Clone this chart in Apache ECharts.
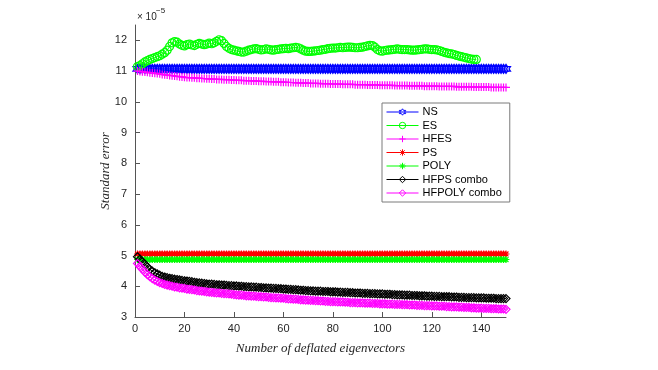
<!DOCTYPE html>
<html>
<head>
<meta charset="utf-8">
<script src="https://cdn.jsdelivr.net/npm/echarts@6/dist/echarts.min.js"></script>
<style>
  html, body { margin: 0; padding: 0; background: #fff; }
  #chart { width: 658px; height: 370px; }
</style>
</head>
<body>
<div id="chart"></div>
<script>
// values are in units of 1e-5
const seriesNames = ['NS', 'ES', 'HFES', 'PS', 'POLY', 'HFPS combo', 'HFPOLY combo']
const xTicks = [0, 20, 40, 60, 80, 100, 120, 140]
const yTicks = [3, 4, 5, 6, 7, 8, 9, 10, 11, 12]

const nsValues = [
  11.07, 11.07, 11.07, 11.07, 11.07, 11.07, 11.07, 11.07, 11.07, 11.07,
  11.07, 11.07, 11.07, 11.07, 11.07, 11.07, 11.07, 11.07, 11.07, 11.07,
  11.07, 11.07, 11.07, 11.07, 11.07, 11.07, 11.07, 11.07, 11.07, 11.07,
  11.07, 11.07, 11.07, 11.07, 11.07, 11.07, 11.07, 11.07, 11.07, 11.07,
  11.07, 11.07, 11.07, 11.07, 11.07, 11.07, 11.07, 11.07, 11.07, 11.07,
  11.07, 11.07, 11.07, 11.07, 11.07, 11.07, 11.07, 11.07, 11.07, 11.07,
  11.07, 11.07, 11.07, 11.07, 11.07, 11.07, 11.07, 11.07, 11.07, 11.07,
  11.07, 11.07, 11.07, 11.07, 11.07, 11.07, 11.07, 11.07, 11.07, 11.07,
  11.07, 11.07, 11.07, 11.07, 11.07, 11.07, 11.07, 11.07, 11.07, 11.07,
  11.07, 11.07, 11.07, 11.07, 11.07, 11.07, 11.07, 11.07, 11.07, 11.07,
  11.07, 11.07, 11.07, 11.07, 11.07, 11.07, 11.07, 11.07, 11.07, 11.07,
  11.07, 11.07, 11.07, 11.07, 11.07, 11.07, 11.07, 11.07, 11.07, 11.07,
  11.07, 11.07, 11.07, 11.07, 11.07, 11.07, 11.07, 11.07, 11.07, 11.07,
  11.07, 11.07, 11.07, 11.07, 11.07, 11.07, 11.07, 11.07, 11.07, 11.07,
  11.07, 11.07, 11.07, 11.07, 11.07, 11.07, 11.07, 11.07, 11.07, 11.07
]

const esValues = [
  11.15, 11.18, 11.24, 11.30, 11.34, 11.38, 11.41, 11.44, 11.47, 11.50,
  11.55, 11.60, 11.68, 11.80, 11.92, 11.96, 11.94, 11.88, 11.84, 11.82,
  11.86, 11.88, 11.85, 11.83, 11.87, 11.90, 11.88, 11.86, 11.88, 11.91,
  11.89, 11.92, 11.97, 12.02, 11.99, 11.90, 11.80, 11.74, 11.70, 11.68,
  11.66, 11.64, 11.62, 11.62, 11.65, 11.68, 11.70, 11.72, 11.73, 11.71,
  11.69, 11.70, 11.72, 11.71, 11.69, 11.68, 11.70, 11.71, 11.72, 11.73,
  11.74, 11.73, 11.75, 11.76, 11.77, 11.76, 11.72, 11.68, 11.65, 11.64,
  11.64, 11.65, 11.66, 11.67, 11.68, 11.70, 11.71, 11.73, 11.74, 11.75,
  11.75, 11.76, 11.77, 11.76, 11.77, 11.78, 11.78, 11.77, 11.76, 11.76,
  11.77, 11.78, 11.80, 11.82, 11.84, 11.83, 11.78, 11.70, 11.66, 11.65,
  11.67, 11.68, 11.69, 11.70, 11.71, 11.72, 11.71, 11.70, 11.70, 11.70,
  11.69, 11.68, 11.68, 11.69, 11.70, 11.71, 11.72, 11.72, 11.71, 11.70,
  11.70, 11.69, 11.67, 11.64, 11.61, 11.59, 11.57, 11.56, 11.54, 11.51,
  11.49, 11.47, 11.45, 11.43, 11.41, 11.39, 11.38, 11.38
]

const hfesValues = [
  11.00, 10.99, 10.98, 10.97, 10.96, 10.95, 10.94, 10.93, 10.92, 10.91,
  10.89, 10.88, 10.87, 10.86, 10.85, 10.84, 10.83, 10.82, 10.81, 10.80,
  10.79, 10.79, 10.78, 10.78, 10.77, 10.77, 10.76, 10.76, 10.75, 10.75,
  10.74, 10.74, 10.73, 10.73, 10.73, 10.72, 10.72, 10.72, 10.71, 10.71,
  10.70, 10.70, 10.70, 10.69, 10.69, 10.69, 10.68, 10.68, 10.68, 10.67,
  10.67, 10.67, 10.66, 10.66, 10.66, 10.65, 10.65, 10.65, 10.64, 10.64,
  10.64, 10.63, 10.63, 10.63, 10.62, 10.62, 10.62, 10.61, 10.61, 10.61,
  10.60, 10.60, 10.60, 10.60, 10.59, 10.59, 10.59, 10.59, 10.58, 10.58,
  10.58, 10.58, 10.58, 10.57, 10.57, 10.57, 10.57, 10.57, 10.56, 10.56,
  10.56, 10.56, 10.56, 10.55, 10.55, 10.55, 10.55, 10.55, 10.54, 10.54,
  10.54, 10.54, 10.54, 10.54, 10.53, 10.53, 10.53, 10.53, 10.53, 10.53,
  10.52, 10.52, 10.52, 10.52, 10.52, 10.52, 10.51, 10.51, 10.51, 10.51,
  10.51, 10.51, 10.50, 10.50, 10.50, 10.50, 10.50, 10.50, 10.50, 10.49,
  10.49, 10.49, 10.49, 10.49, 10.49, 10.49, 10.48, 10.48, 10.48, 10.48,
  10.48, 10.48, 10.48, 10.47, 10.47, 10.47, 10.47, 10.47, 10.47, 10.47
]

const psValues = [
  5.05, 5.05, 5.05, 5.05, 5.05, 5.05, 5.05, 5.05, 5.05, 5.05,
  5.05, 5.05, 5.05, 5.05, 5.05, 5.05, 5.05, 5.05, 5.05, 5.05,
  5.05, 5.05, 5.05, 5.05, 5.05, 5.05, 5.05, 5.05, 5.05, 5.05,
  5.05, 5.05, 5.05, 5.05, 5.05, 5.05, 5.05, 5.05, 5.05, 5.05,
  5.05, 5.05, 5.05, 5.05, 5.05, 5.05, 5.05, 5.05, 5.05, 5.05,
  5.05, 5.05, 5.05, 5.05, 5.05, 5.05, 5.05, 5.05, 5.05, 5.05,
  5.05, 5.05, 5.05, 5.05, 5.05, 5.05, 5.05, 5.05, 5.05, 5.05,
  5.05, 5.05, 5.05, 5.05, 5.05, 5.05, 5.05, 5.05, 5.05, 5.05,
  5.05, 5.05, 5.05, 5.05, 5.05, 5.05, 5.05, 5.05, 5.05, 5.05,
  5.05, 5.05, 5.05, 5.05, 5.05, 5.05, 5.05, 5.05, 5.05, 5.05,
  5.05, 5.05, 5.05, 5.05, 5.05, 5.05, 5.05, 5.05, 5.05, 5.05,
  5.05, 5.05, 5.05, 5.05, 5.05, 5.05, 5.05, 5.05, 5.05, 5.05,
  5.05, 5.05, 5.05, 5.05, 5.05, 5.05, 5.05, 5.05, 5.05, 5.05,
  5.05, 5.05, 5.05, 5.05, 5.05, 5.05, 5.05, 5.05, 5.05, 5.05,
  5.05, 5.05, 5.05, 5.05, 5.05, 5.05, 5.05, 5.05, 5.05, 5.05
]

const polyValues = [
  4.87, 4.87, 4.87, 4.87, 4.87, 4.87, 4.87, 4.87, 4.87, 4.87,
  4.87, 4.87, 4.87, 4.87, 4.87, 4.87, 4.87, 4.87, 4.87, 4.87,
  4.87, 4.87, 4.87, 4.87, 4.87, 4.87, 4.87, 4.87, 4.87, 4.87,
  4.87, 4.87, 4.87, 4.87, 4.87, 4.87, 4.87, 4.87, 4.87, 4.87,
  4.87, 4.87, 4.87, 4.87, 4.87, 4.87, 4.87, 4.87, 4.87, 4.87,
  4.87, 4.87, 4.87, 4.87, 4.87, 4.87, 4.87, 4.87, 4.87, 4.87,
  4.87, 4.87, 4.87, 4.87, 4.87, 4.87, 4.87, 4.87, 4.87, 4.87,
  4.87, 4.87, 4.87, 4.87, 4.87, 4.87, 4.87, 4.87, 4.87, 4.87,
  4.87, 4.87, 4.87, 4.87, 4.87, 4.87, 4.87, 4.87, 4.87, 4.87,
  4.87, 4.87, 4.87, 4.87, 4.87, 4.87, 4.87, 4.87, 4.87, 4.87,
  4.87, 4.87, 4.87, 4.87, 4.87, 4.87, 4.87, 4.87, 4.87, 4.87,
  4.87, 4.87, 4.87, 4.87, 4.87, 4.87, 4.87, 4.87, 4.87, 4.87,
  4.87, 4.87, 4.87, 4.87, 4.87, 4.87, 4.87, 4.87, 4.87, 4.87,
  4.87, 4.87, 4.87, 4.87, 4.87, 4.87, 4.87, 4.87, 4.87, 4.87,
  4.87, 4.87, 4.87, 4.87, 4.87, 4.87, 4.87, 4.87, 4.87, 4.87
]

const hfpsValues = [
  4.96, 4.88, 4.80, 4.72, 4.63, 4.55, 4.49, 4.44, 4.40, 4.36,
  4.32, 4.30, 4.28, 4.26, 4.25, 4.23, 4.22, 4.21, 4.19, 4.18,
  4.17, 4.16, 4.15, 4.13, 4.12, 4.11, 4.10, 4.09, 4.08, 4.07,
  4.07, 4.06, 4.05, 4.05, 4.04, 4.04, 4.03, 4.02, 4.02, 4.01,
  4.01, 4.00, 4.00, 3.99, 3.99, 3.98, 3.98, 3.97, 3.97, 3.96,
  3.96, 3.95, 3.95, 3.94, 3.94, 3.93, 3.93, 3.92, 3.92, 3.91,
  3.91, 3.90, 3.90, 3.89, 3.89, 3.88, 3.87, 3.87, 3.86, 3.86,
  3.85, 3.85, 3.84, 3.84, 3.84, 3.83, 3.83, 3.83, 3.82, 3.82,
  3.82, 3.81, 3.81, 3.80, 3.80, 3.80, 3.79, 3.79, 3.78, 3.78,
  3.78, 3.77, 3.77, 3.77, 3.76, 3.76, 3.76, 3.75, 3.75, 3.75,
  3.74, 3.74, 3.74, 3.73, 3.73, 3.72, 3.72, 3.72, 3.71, 3.71,
  3.71, 3.70, 3.70, 3.70, 3.69, 3.69, 3.69, 3.68, 3.68, 3.68,
  3.67, 3.67, 3.67, 3.66, 3.66, 3.66, 3.66, 3.65, 3.65, 3.65,
  3.64, 3.64, 3.64, 3.63, 3.63, 3.63, 3.63, 3.62, 3.62, 3.62,
  3.62, 3.61, 3.61, 3.61, 3.61, 3.60, 3.60, 3.60, 3.60, 3.60
]

const hfpolyValues = [
  4.74, 4.64, 4.55, 4.46, 4.38, 4.31, 4.25, 4.20, 4.16, 4.12,
  4.09, 4.06, 4.04, 4.02, 4.00, 3.98, 3.97, 3.95, 3.94, 3.93,
  3.91, 3.90, 3.89, 3.88, 3.86, 3.85, 3.84, 3.83, 3.82, 3.81,
  3.80, 3.79, 3.78, 3.78, 3.77, 3.76, 3.76, 3.75, 3.74, 3.73,
  3.72, 3.71, 3.71, 3.70, 3.69, 3.69, 3.68, 3.68, 3.67, 3.66,
  3.66, 3.65, 3.65, 3.64, 3.63, 3.63, 3.62, 3.62, 3.61, 3.61,
  3.60, 3.59, 3.59, 3.58, 3.58, 3.57, 3.56, 3.56, 3.55, 3.55,
  3.54, 3.54, 3.53, 3.53, 3.52, 3.52, 3.51, 3.51, 3.50, 3.50,
  3.50, 3.49, 3.49, 3.49, 3.48, 3.48, 3.47, 3.47, 3.47, 3.46,
  3.46, 3.46, 3.45, 3.45, 3.45, 3.44, 3.44, 3.44, 3.43, 3.43,
  3.43, 3.42, 3.42, 3.42, 3.41, 3.41, 3.41, 3.40, 3.40, 3.40,
  3.39, 3.39, 3.39, 3.38, 3.38, 3.38, 3.37, 3.37, 3.37, 3.36,
  3.36, 3.36, 3.35, 3.35, 3.35, 3.34, 3.34, 3.33, 3.33, 3.33,
  3.32, 3.32, 3.31, 3.31, 3.31, 3.30, 3.30, 3.29, 3.29, 3.29,
  3.28, 3.28, 3.28, 3.27, 3.27, 3.27, 3.26, 3.26, 3.26, 3.25
]

// MATLAB-like marker outlines
const HEXAGRAM = 'path://M50 0L64.4 25L93.3 25L78.9 50L93.3 75L64.4 75L50 100L35.6 75L6.7 75L21.1 50L6.7 25L35.6 25Z'
const PLUS = 'path://M50 0L50 100M0 50L100 50'
const STAR = 'path://M50 0L50 100M0 50L100 50M15 15L85 85M85 15L15 85'
const DIAMOND = 'path://M50 0L100 50L50 100L0 50Z'

const axisColor = '#262626'

function toPoints(values) {
  return values.map((v, i) => [i + 1, v])
}

function makeSeries(name, values, color, symbol, size) {
  return {
    name: name,
    type: 'line',
    data: toPoints(values),
    symbol: symbol,
    symbolSize: size,
    showAllSymbol: true,
    lineStyle: { color: color, width: 1 },
    itemStyle: { color: 'transparent', borderColor: color, borderWidth: 1.2 },
    emphasis: { disabled: true }
  }
}

const chart = echarts.init(document.getElementById('chart'))

const option = {
  animation: false,
  backgroundColor: '#fff',
  grid: { left: 135, right: 152, top: 25, bottom: 53 },
  legend: {
    orient: 'vertical',
    left: 382,
    top: 103,
    padding: [3, 8, 3, 4],
    itemGap: 1.5,
    itemWidth: 32,
    itemHeight: 8,
    backgroundColor: '#fff',
    borderColor: '#7a7a7a',
    borderWidth: 1,
    borderRadius: 0,
    itemStyle: { color: 'transparent', borderWidth: 1 },
    lineStyle: { width: 1 },
    textStyle: { fontFamily: 'Liberation Sans', fontSize: 11, color: '#000', lineHeight: 12, padding: [0, 0, 0, -1] },
    data: seriesNames
  },
  xAxis: {
    type: 'value',
    min: 0,
    max: 150,
    interval: 20,
    name: 'Number of deflated eigenvectors',
    nameLocation: 'middle',
    nameGap: 25,
    nameMoveOverlap: false,
    nameTextStyle: { fontFamily: 'Liberation Serif', fontStyle: 'italic', fontSize: 13, color: axisColor },
    splitLine: { show: false },
    axisLine: { onZero: false, lineStyle: { color: '#555', width: 1 } },
    axisTick: { inside: true, length: 5, lineStyle: { color: '#555' }, customValues: xTicks },
    axisLabel: { margin: 6, fontFamily: 'Liberation Sans', fontSize: 11, color: axisColor, customValues: xTicks }
  },
  yAxis: {
    type: 'value',
    min: 3,
    max: 12.5,
    interval: 1,
    name: 'Standard error',
    nameLocation: 'middle',
    nameGap: 23,
    nameMoveOverlap: false,
    nameTextStyle: { fontFamily: 'Liberation Serif', fontStyle: 'italic', fontSize: 13, color: axisColor },
    splitLine: { show: false },
    axisLine: { show: true, onZero: false, lineStyle: { color: '#555', width: 1 } },
    axisTick: { show: true, inside: true, length: 5, lineStyle: { color: '#555' }, customValues: yTicks },
    axisLabel: { margin: 8, fontFamily: 'Liberation Sans', fontSize: 11, color: axisColor, customValues: yTicks }
  },
  graphic: [
    {
      type: 'text', left: 137, top: 12,
      style: { text: '× 10', font: '10px "Liberation Sans"', fill: axisColor }
    },
    {
      type: 'text', left: 156, top: 7,
      style: { text: '−5', font: '8px "Liberation Sans"', fill: axisColor }
    }
  ],
  series: [
    makeSeries('NS', nsValues, '#0000ff', HEXAGRAM, 9),
    makeSeries('ES', esValues, '#00ff00', 'circle', 8),
    makeSeries('HFES', hfesValues, '#ff00ff', PLUS, 8),
    makeSeries('PS', psValues, '#ff0000', STAR, 7),
    makeSeries('POLY', polyValues, '#00ff00', STAR, 7),
    makeSeries('HFPS combo', hfpsValues, '#000000', DIAMOND, 8),
    makeSeries('HFPOLY combo', hfpolyValues, '#ff00ff', DIAMOND, 8)
  ]
}

chart.setOption(option)
window.addEventListener('resize', () => chart.resize())
</script>
</body>
</html>
